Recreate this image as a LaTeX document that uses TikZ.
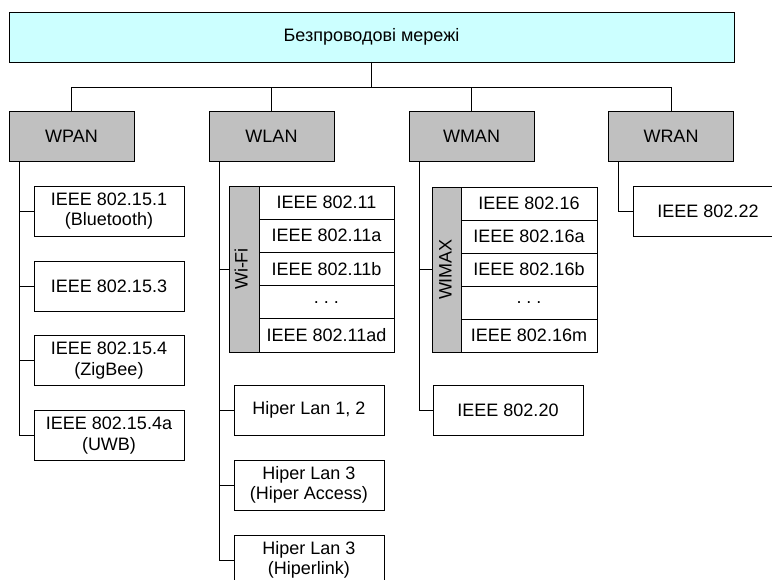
\documentclass[tikz,border=0pt]{standalone}
\usepackage{fontspec}
\setmainfont{Liberation Sans}
\begin{document}
\begin{tikzpicture}[x=1pt,y=-1pt,
  every node/.style={font=\fontsize{18}{20.5}\selectfont, inner sep=0pt, outer sep=0pt},
  box/.style={draw=black, line width=0.9pt, fill=white, rectangle, align=center},
  topbox/.style={box, fill=cyanfill, minimum width=725, minimum height=50},
  catbox/.style={box, fill=grayfill, minimum width=125, minimum height=50},
  leaf/.style={box, minimum width=150, minimum height=50},
  bar/.style={box, fill=grayfill},
  row/.style={box, minimum height=33.2},
  conn/.style={draw=black, line width=0.9pt}
]
\definecolor{cyanfill}{HTML}{CCFFFF}
\definecolor{grayfill}{HTML}{C0C0C0}
\useasboundingbox (0,0) rectangle (772,580);
\clip (0,0) rectangle (772,580);
\fill[white] (0,0) rectangle (772,580);
\coordinate (bus) at (0,87);

% top
\node[topbox] (top) at (371.5,37) {Безпроводові мережі};

% categories
\node[catbox] (wpan) at (71.5,136.5) {WPAN};
\node[catbox] (wlan) at (271.5,136.5) {WLAN};
\node[catbox] (wman) at (471.5,136.5) {WMAN};
\node[catbox] (wran) at (671,136.5) {WRAN};

\draw[conn] (top.south) -- (top.south |- bus);
\draw[conn] (wpan.north) -- (wpan.north |- bus) -- (wran.north |- bus) -- (wran.north);
\draw[conn] (wlan.north) -- (wlan.north |- bus);
\draw[conn] (wman.north) -- (wman.north |- bus);

% WPAN children
\node[leaf] (p1) at (109,211) {IEEE 802.15.1\\(Bluetooth)};
\node[leaf] (p2) at (109,286) {IEEE 802.15.3};
\node[leaf] (p3) at (109,360.5) {IEEE 802.15.4\\(ZigBee)};
\node[leaf] (p4) at (109,435.5) {IEEE 802.15.4a\\(UWB)};
\coordinate (wpant) at ([xshift=10]wpan.south west);
\foreach \c in {p1,p2,p3,p4} \draw[conn] (\c.west) -| (wpant);

% WLAN children
\node[bar, minimum width=30, minimum height=166] (wifi) at (244,269) {};
\node[rotate=90] (wifilbl) at ([xshift=-3]wifi.center) {Wi-Fi};
\node[row, minimum width=135] (w1) at (326.5,202.6) {IEEE 802.11};
\node[row, minimum width=135] (w2) at (326.5,235.8) {IEEE 802.11a};
\node[row, minimum width=135] (w3) at (326.5,269) {IEEE 802.11b};
\node[row, minimum width=135] (w4) at (326.5,302.2) {.\ .\ .};
\node[row, minimum width=135] (w5) at (326.5,335.4) {IEEE 802.11ad};
\node[leaf] (h1) at (309,410) {Hiper Lan 1, 2};
\node[leaf] (h2) at (309,485) {Hiper Lan 3\\(Hiper Access)};
\node[leaf] (h3) at (309,560) {Hiper Lan 3\\(Hiperlink)};
\coordinate (wlant) at ([xshift=10]wlan.south west);
\foreach \c in {wifi,h1,h2,h3} \draw[conn] (\c.west) -| (wlant);

% WMAN children
\node[bar, minimum width=29, minimum height=165] (wimax) at (446.5,269.5) {};
\node[rotate=90] (wimaxlbl) at ([xshift=-1]wimax.center) {WIMAX};
\node[row, minimum width=136, minimum height=33] (m1) at (529,203.5) {IEEE 802.16};
\node[row, minimum width=136, minimum height=33] (m2) at (529,236.5) {IEEE 802.16a};
\node[row, minimum width=136, minimum height=33] (m3) at (529,269.5) {IEEE 802.16b};
\node[row, minimum width=136, minimum height=33] (m4) at (529,302.5) {.\ .\ .};
\node[row, minimum width=136, minimum height=33] (m5) at (529,335.5) {IEEE 802.16m};
\node[leaf] (m6) at (508,410) {IEEE 802.20};
\coordinate (wmant) at ([xshift=10]wman.south west);
\foreach \c in {wimax,m6} \draw[conn] (\c.west) -| (wmant);

% WRAN children
\node[leaf] (r1) at (708,211) {IEEE 802.22};
\coordinate (wrant) at ([xshift=10]wran.south west);
\draw[conn] (r1.west) -| (wrant);
\end{tikzpicture}
\end{document}
